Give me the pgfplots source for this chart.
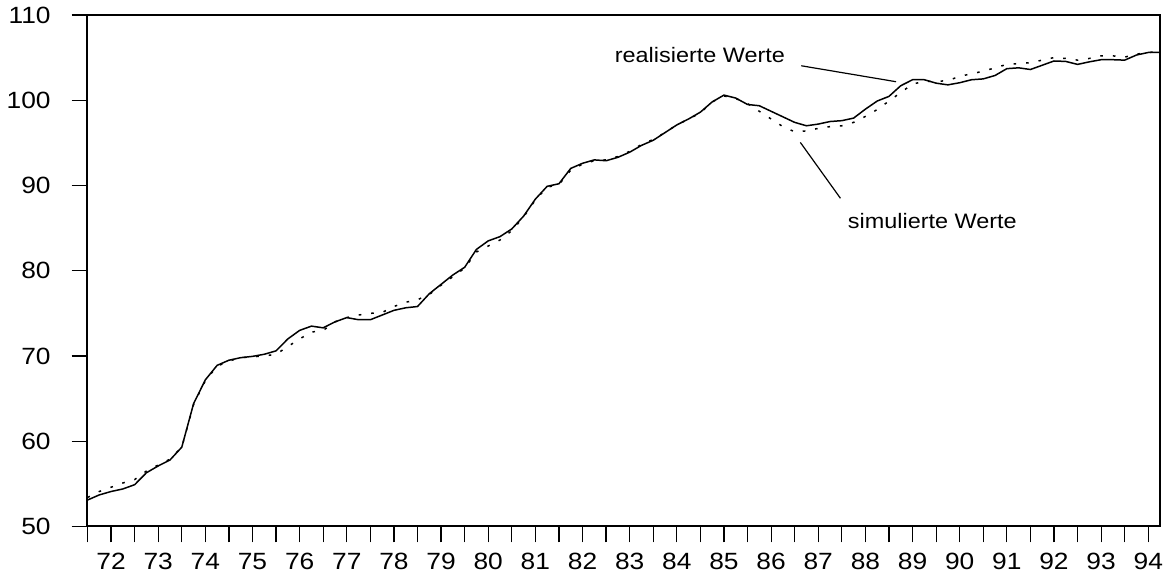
\documentclass[border=0pt]{standalone}
\usepackage{fontspec}
\setmainfont{Liberation Sans}[FakeStretch=1.12]
\usepackage{pgfplots}
\pgfplotsset{compat=1.18}
\pgfplotstableread{
x real sim
72.00 53.1 53.4
72.25 53.7 54.1
72.50 54.1 54.6
72.75 54.4 55.1
73.00 54.9 55.5
73.25 56.3 56.5
73.50 57.1 57.2
73.75 57.8 57.9
74.00 59.3 59.3
74.25 64.4 64.3
74.50 67.2 67.1
74.75 68.9 68.8
75.00 69.5 69.4
75.25 69.8 69.8
75.50 69.95 69.9
75.75 70.2 70.0
76.00 70.6 70.2
76.25 72.0 71.1
76.50 73.0 72.0
76.75 73.5 72.8
77.00 73.3 73.0
77.25 74.0 74.0
77.50 74.5 74.5
77.75 74.25 74.8
78.00 74.25 75.0
78.25 74.8 75.1
78.50 75.35 75.8
78.75 75.65 76.3
79.00 75.8 76.6
79.25 77.3 77.2
79.50 78.4 78.3
79.75 79.5 79.3
80.00 80.4 80.3
80.25 82.5 82.2
80.50 83.5 82.9
80.75 84.0 83.6
81.00 84.9 84.7
81.25 86.4 86.3
81.50 88.4 88.3
81.75 89.9 89.8
82.00 90.2 90.1
82.25 92.0 91.8
82.50 92.6 92.5
82.75 93.0 92.9
83.00 92.9 93.0
83.25 93.3 93.4
83.50 93.9 94.0
83.75 94.7 94.8
84.00 95.3 95.4
84.25 96.2 96.2
84.50 97.1 97.1
84.75 97.8 97.8
85.00 98.6 98.5
85.25 99.8 99.8
85.50 100.6 100.5
85.75 100.25 100.2
86.00 99.5 99.6
86.25 99.35 98.7
86.50 98.7 97.8
86.75 98.05 96.9
87.00 97.4 96.3
87.25 97.0 96.4
87.50 97.2 96.7
87.75 97.5 96.9
88.00 97.6 97.0
88.25 97.9 97.4
88.50 98.95 98.1
88.75 99.9 98.9
89.00 100.45 99.9
89.25 101.7 100.9
89.50 102.4 101.9
89.75 102.4 102.2
90.00 102.0 102.2
90.25 101.8 102.3
90.50 102.05 102.8
90.75 102.4 103.1
91.00 102.5 103.4
91.25 102.9 103.8
91.50 103.7 104.2
91.75 103.8 104.3
92.00 103.6 104.4
92.25 104.1 104.7
92.50 104.6 105.0
92.75 104.55 104.9
93.00 104.2 104.7
93.25 104.5 104.9
93.50 104.75 105.2
93.75 104.75 105.2
94.00 104.7 105.05
94.25 105.3 105.4
94.50 105.6 105.6
94.75 105.6 105.7
}\datatable
\begin{document}
\begin{tikzpicture}
\begin{axis}[
  scale only axis,
  width=538.35pt, height=256.75pt,
  xmin=72, xmax=94.75,
  ymin=50, ymax=110,
  axis line style={line width=1pt},
  xtick={72.5,73.5,...,94.5},
  xticklabels={72,73,74,75,76,77,78,79,80,81,82,83,84,85,86,87,88,89,90,91,92,93,94},
  minor xtick={72,73,...,94},
  ytick={50,60,...,110},
  tick align=outside,
  major tick length=8pt, minor tick length=8pt,
  tick style={line width=0.6pt, black},
  xtick pos=left, ytick pos=left,
  ticklabel style={font=\fontsize{11.8}{13}\selectfont},
  yticklabel style={xshift=-7pt},
  xticklabel style={yshift=-2pt},
  /pgf/number format/assume math mode=true,
  clip=false,
]
\addplot[black, line width=0.75pt] table[x=x, y=real] {\datatable};
\addplot[black, line width=0.75pt, dash pattern=on 1.3pt off 5pt] table[x=x, y=sim] {\datatable};
\node[font=\fontsize{10.5}{12}\selectfont] at (axis cs:84.99,105.33) {realisierte Werte};
\draw[line width=0.6pt] (axis cs:87.14,104.04) -- (axis cs:89.15,102.17);
\node[font=\fontsize{10.5}{12}\selectfont] at (axis cs:89.92,85.81) {simulierte Werte};
\draw[line width=0.6pt] (axis cs:87.12,95.05) -- (axis cs:87.97,88.5);
\end{axis}
\path (current axis.south west) ++(-41.65pt,-24.25pt) rectangle ([xshift=5pt,yshift=7.5pt]current axis.north east);
\end{tikzpicture}
\end{document}
